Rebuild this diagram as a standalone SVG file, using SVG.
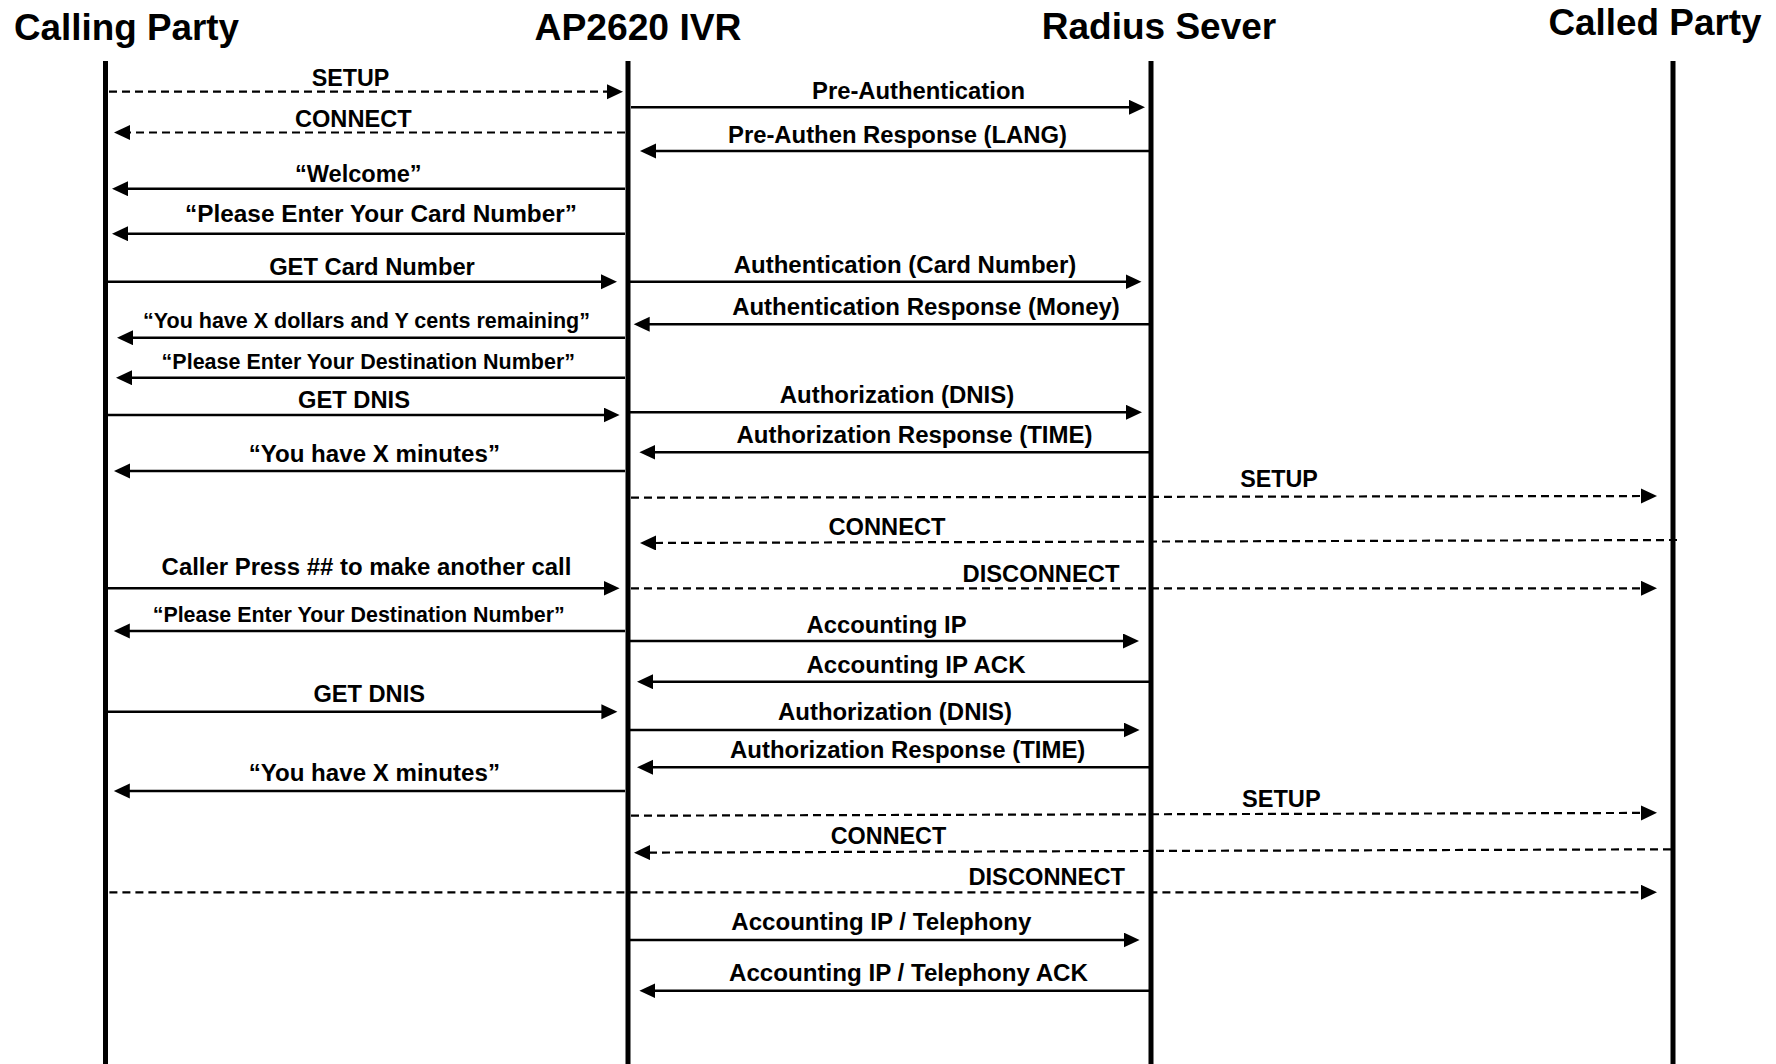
<svg xmlns="http://www.w3.org/2000/svg" width="1776" height="1064" viewBox="0 0 1776 1064">
<style>
.title{font-family:"Liberation Sans",Arial,sans-serif;font-weight:bold;font-size:37px;fill:#000;text-anchor:middle}
.lbl{font-family:"Liberation Sans",Arial,sans-serif;font-weight:bold;font-size:23.5px;fill:#000;text-anchor:middle}
.sm{font-size:21.4px}
.life{stroke:#000;stroke-width:5;fill:none}
.sol{stroke:#000;stroke-width:2.5;fill:none;marker-end:url(#ah)}
.dsh{stroke:#000;stroke-width:2.2;fill:none;stroke-dasharray:8 5;marker-end:url(#ah)}
</style>
<defs>
<marker id="ah" markerUnits="userSpaceOnUse" markerWidth="17" markerHeight="16" refX="6" refY="7.5" orient="auto">
<path d="M0,0 L16,7.5 L0,15 Z" fill="#000"/>
</marker>
</defs>
<rect width="1776" height="1064" fill="#fff"/>
<g id="calling-party">
<text class="title" x="126.5" y="40" textLength="225" lengthAdjust="spacingAndGlyphs">Calling Party</text>
<line class="life" x1="105.5" y1="61" x2="105.5" y2="1064"/>
</g>
<g id="ap2620-ivr">
<text class="title" x="638" y="40" textLength="207" lengthAdjust="spacingAndGlyphs">AP2620 IVR</text>
<line class="life" x1="628" y1="61" x2="628" y2="1064"/>
</g>
<g id="radius-server">
<text class="title" x="1159" y="38.5" textLength="234.5" lengthAdjust="spacingAndGlyphs">Radius Sever</text>
<line class="life" x1="1151" y1="61" x2="1151" y2="1064"/>
</g>
<g id="called-party">
<text class="title" x="1655" y="35" textLength="213" lengthAdjust="spacingAndGlyphs">Called Party</text>
<line class="life" x1="1673" y1="61" x2="1673" y2="1064"/>
</g>
<g id="connectors">
<g id="m1"><path class="dsh" d="M109,91.7 L613,91.7"/><text class="lbl" x="350.5" y="86" textLength="77.6" lengthAdjust="spacingAndGlyphs">SETUP</text></g>
<g id="m2"><path class="dsh" d="M625,132.5 L124,132.5"/><text class="lbl" x="353.3" y="126.7" textLength="116.7" lengthAdjust="spacingAndGlyphs">CONNECT</text></g>
<g id="m3"><path class="sol" d="M631,107.3 L1135,107.3"/><text class="lbl" x="918.5" y="99.3" textLength="213" lengthAdjust="spacingAndGlyphs">Pre-Authentication</text></g>
<g id="m4"><path class="sol" d="M1150,151 L650,151"/><text class="lbl" x="897.5" y="142.7" textLength="339" lengthAdjust="spacingAndGlyphs">Pre-Authen Response (LANG)</text></g>
<g id="m5"><path class="sol" d="M625,188.7 L122,188.7"/><text class="lbl" x="358.3" y="181.7" textLength="126.7" lengthAdjust="spacingAndGlyphs">“Welcome”</text></g>
<g id="m6"><path class="sol" d="M625,233.7 L122,233.7"/><text class="lbl" x="381" y="221.7" textLength="392" lengthAdjust="spacingAndGlyphs">“Please Enter Your Card Number”</text></g>
<g id="m7"><path class="sol" d="M107,281.7 L607,281.7"/><text class="lbl" x="372" y="275" textLength="205.7" lengthAdjust="spacingAndGlyphs">GET Card Number</text></g>
<g id="m8"><path class="sol" d="M630,281.7 L1131.5,281.7"/><text class="lbl" x="905" y="272.7" textLength="342.5" lengthAdjust="spacingAndGlyphs">Authentication (Card Number)</text></g>
<g id="m9"><path class="sol" d="M1149,324.3 L643.7,324.3"/><text class="lbl" x="926" y="315" textLength="387.7" lengthAdjust="spacingAndGlyphs">Authentication Response (Money)</text></g>
<g id="m10"><path class="sol" d="M625,337.7 L127,337.7"/><text class="lbl sm" x="366.5" y="328.3" textLength="447" lengthAdjust="spacingAndGlyphs">“You have X dollars and Y cents remaining”</text></g>
<g id="m11"><path class="sol" d="M625,377.7 L126,377.7"/><text class="lbl sm" x="368.3" y="369.3" textLength="413.4" lengthAdjust="spacingAndGlyphs">“Please Enter Your Destination Number”</text></g>
<g id="m12"><path class="sol" d="M107,415 L609.6,415"/><text class="lbl" x="354" y="408.3" textLength="112" lengthAdjust="spacingAndGlyphs">GET DNIS</text></g>
<g id="m13"><path class="sol" d="M630,412.3 L1132,412.3"/><text class="lbl" x="897" y="403.3" textLength="234.5" lengthAdjust="spacingAndGlyphs">Authorization (DNIS)</text></g>
<g id="m14"><path class="sol" d="M1150,452.3 L649.4,452.3"/><text class="lbl" x="914.5" y="443.3" textLength="356" lengthAdjust="spacingAndGlyphs">Authorization Response (TIME)</text></g>
<g id="m15"><path class="sol" d="M625,471 L124,471"/><text class="lbl" x="374.3" y="462.3" textLength="251.3" lengthAdjust="spacingAndGlyphs">“You have X minutes”</text></g>
<g id="m16"><path class="dsh" d="M631,497.7 L1647,496"/><text class="lbl" x="1279" y="487.3" textLength="77.7" lengthAdjust="spacingAndGlyphs">SETUP</text></g>
<g id="m17"><path class="dsh" d="M1677,540 L650,543"/><text class="lbl" x="887" y="535" textLength="117" lengthAdjust="spacingAndGlyphs">CONNECT</text></g>
<g id="m18"><path class="sol" d="M107,588.3 L609.6,588.3"/><text class="lbl" x="366.5" y="575" textLength="409.8" lengthAdjust="spacingAndGlyphs">Caller Press ## to make another call</text></g>
<g id="m19"><path class="dsh" d="M631,588.3 L1647,588.3"/><text class="lbl" x="1041" y="581.7" textLength="157" lengthAdjust="spacingAndGlyphs">DISCONNECT</text></g>
<g id="m20"><path class="sol" d="M625,631 L123.8,631"/><text class="lbl sm" x="358.7" y="621.7" textLength="412" lengthAdjust="spacingAndGlyphs">“Please Enter Your Destination Number”</text></g>
<g id="m21"><path class="sol" d="M630,641 L1129,641"/><text class="lbl" x="886.6" y="633.3" textLength="160" lengthAdjust="spacingAndGlyphs">Accounting IP</text></g>
<g id="m22"><path class="sol" d="M1150,681.7 L647,681.7"/><text class="lbl" x="916" y="672.7" textLength="219" lengthAdjust="spacingAndGlyphs">Accounting IP ACK</text></g>
<g id="m23"><path class="sol" d="M107,711.7 L607.4,711.7"/><text class="lbl" x="369.2" y="701.7" textLength="111.6" lengthAdjust="spacingAndGlyphs">GET DNIS</text></g>
<g id="m24"><path class="sol" d="M630,730 L1129.6,730"/><text class="lbl" x="895" y="720" textLength="234" lengthAdjust="spacingAndGlyphs">Authorization (DNIS)</text></g>
<g id="m25"><path class="sol" d="M1150,767.3 L647,767.3"/><text class="lbl" x="907.7" y="758.3" textLength="355.3" lengthAdjust="spacingAndGlyphs">Authorization Response (TIME)</text></g>
<g id="m26"><path class="sol" d="M625,791 L123.8,791"/><text class="lbl" x="374.3" y="781" textLength="251.3" lengthAdjust="spacingAndGlyphs">“You have X minutes”</text></g>
<g id="m27"><path class="dsh" d="M631,815.7 L1647,812.9"/><text class="lbl" x="1281.3" y="806.7" textLength="78.7" lengthAdjust="spacingAndGlyphs">SETUP</text></g>
<g id="m28"><path class="dsh" d="M1671,849.3 L644,852.6"/><text class="lbl" x="888.5" y="844" textLength="115.5" lengthAdjust="spacingAndGlyphs">CONNECT</text></g>
<g id="m29"><path class="dsh" d="M109.4,892.3 L1647,892.3"/><text class="lbl" x="1046.7" y="885" textLength="156.5" lengthAdjust="spacingAndGlyphs">DISCONNECT</text></g>
<g id="m30"><path class="sol" d="M630,940 L1129.6,940"/><text class="lbl" x="881.3" y="930" textLength="300" lengthAdjust="spacingAndGlyphs">Accounting IP / Telephony</text></g>
<g id="m31"><path class="sol" d="M1150,990.7 L649.4,990.7"/><text class="lbl" x="908.5" y="980.7" textLength="359" lengthAdjust="spacingAndGlyphs">Accounting IP / Telephony ACK</text></g>
</g>
</svg>
